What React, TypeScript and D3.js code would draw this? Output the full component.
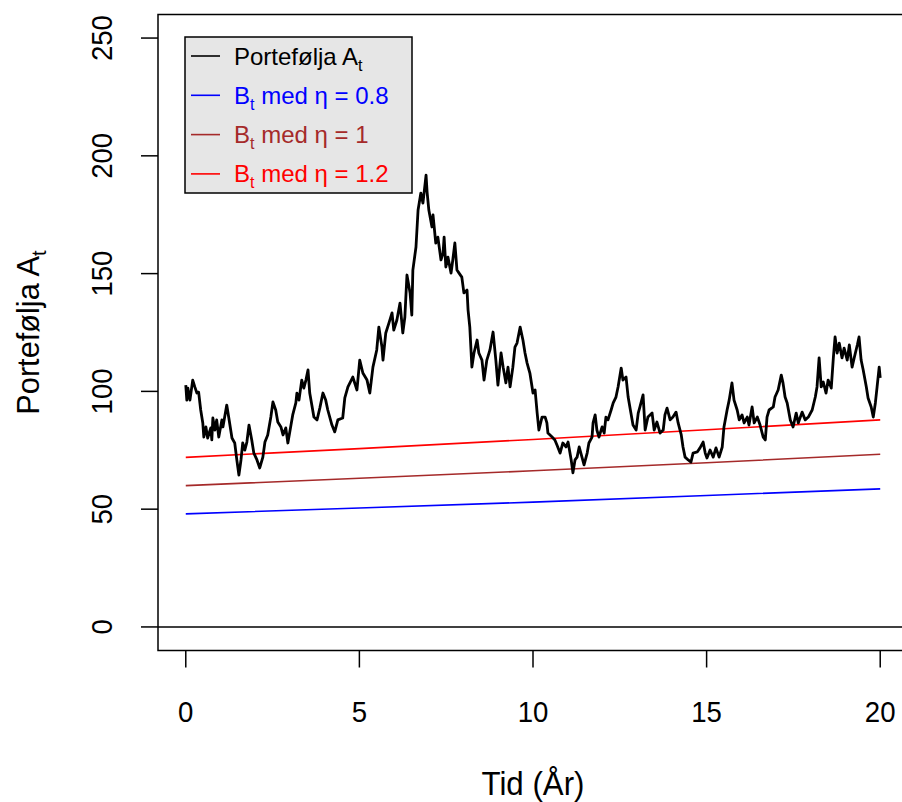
import React from 'react'
import * as d3 from 'd3'

// Portefølja A_t, lest av figuren (tid i år, verdi)
const tid = [0, 0.03, 0.06, 0.12, 0.2, 0.26, 0.32, 0.37, 0.43, 0.49, 0.52, 0.58, 0.63, 0.72, 0.75, 0.78, 0.84, 0.89, 0.95, 1.04, 1.07, 1.18, 1.24, 1.33, 1.41, 1.47, 1.53, 1.59, 1.64, 1.7, 1.76, 1.82, 1.9, 1.96, 2.05, 2.13, 2.22, 2.28, 2.36, 2.45, 2.51, 2.59, 2.65, 2.74, 2.8, 2.88, 2.94, 3.03, 3.08, 3.17, 3.2, 3.26, 3.34, 3.4, 3.46, 3.52, 3.57, 3.63, 3.69, 3.78, 3.86, 3.95, 4.03, 4.09, 4.21, 4.29, 4.38, 4.52, 4.58, 4.67, 4.81, 4.93, 5.01, 5.1, 5.22, 5.3, 5.39, 5.5, 5.56, 5.65, 5.68, 5.76, 5.85, 5.94, 5.99, 6.08, 6.17, 6.25, 6.31, 6.37, 6.46, 6.51, 6.54, 6.63, 6.69, 6.77, 6.83, 6.92, 6.95, 7.0, 7.09, 7.12, 7.2, 7.26, 7.35, 7.41, 7.44, 7.49, 7.55, 7.64, 7.69, 7.75, 7.81, 7.87, 7.95, 8.01, 8.1, 8.13, 8.18, 8.24, 8.3, 8.39, 8.44, 8.53, 8.59, 8.67, 8.76, 8.85, 8.93, 8.99, 9.08, 9.14, 9.22, 9.28, 9.34, 9.42, 9.48, 9.54, 9.63, 9.71, 9.77, 9.83, 9.91, 10.0, 10.06, 10.12, 10.17, 10.26, 10.35, 10.4, 10.43, 10.55, 10.63, 10.69, 10.78, 10.86, 10.95, 11.01, 11.1, 11.15, 11.21, 11.27, 11.33, 11.41, 11.47, 11.56, 11.61, 11.7, 11.73, 11.79, 11.84, 11.9, 11.99, 12.05, 12.1, 12.16, 12.25, 12.31, 12.39, 12.45, 12.54, 12.59, 12.68, 12.74, 12.82, 12.88, 12.97, 13.03, 13.08, 13.17, 13.23, 13.31, 13.43, 13.49, 13.57, 13.66, 13.75, 13.8, 13.86, 13.95, 14.03, 14.12, 14.18, 14.27, 14.32, 14.38, 14.47, 14.55, 14.61, 14.73, 14.81, 14.9, 14.96, 15.01, 15.1, 15.19, 15.27, 15.36, 15.45, 15.5, 15.59, 15.65, 15.73, 15.79, 15.88, 15.94, 16.02, 16.08, 16.17, 16.22, 16.31, 16.37, 16.46, 16.54, 16.63, 16.69, 16.74, 16.8, 16.92, 16.97, 17.06, 17.15, 17.2, 17.26, 17.32, 17.41, 17.49, 17.58, 17.64, 17.75, 17.84, 17.93, 18.04, 18.13, 18.18, 18.24, 18.3, 18.36, 18.44, 18.5, 18.59, 18.65, 18.7, 18.76, 18.82, 18.9, 18.96, 19.05, 19.11, 19.19, 19.25, 19.34, 19.39, 19.45, 19.51, 19.6, 19.65, 19.74, 19.8, 19.86, 19.91, 19.97, 20.0]
const portefolje = [102.7, 96.3, 101.4, 96.3, 104.8, 101.9, 99.3, 99.7, 92.1, 86.6, 80.6, 84.9, 80.2, 84.5, 79.4, 88.7, 83.6, 87.9, 80.6, 87.9, 84.9, 94.2, 88.7, 80.2, 78.1, 70.9, 64.5, 70.9, 78.1, 75.1, 78.5, 85.7, 79.4, 73.8, 70.9, 67.5, 72.1, 78.5, 81.5, 89.1, 95.5, 92.1, 87.0, 84.9, 81.5, 84.5, 78.1, 85.7, 90.0, 95.1, 99.3, 96.3, 104.8, 101.4, 104.8, 109.1, 99.3, 94.2, 89.1, 87.9, 92.9, 99.3, 96.3, 92.1, 85.7, 82.8, 87.9, 88.7, 97.2, 101.9, 106.1, 100.6, 113.3, 107.8, 104.8, 99.3, 110.3, 117.6, 127.3, 118.8, 113.3, 124.8, 129.0, 133.3, 126.0, 130.3, 137.5, 124.8, 131.6, 149.4, 141.8, 132.4, 151.5, 161.3, 177.0, 184.2, 179.9, 191.8, 184.6, 177.0, 169.8, 174.9, 163.0, 165.5, 155.8, 158.7, 165.5, 152.8, 157.0, 150.2, 155.8, 163.0, 151.5, 150.2, 148.5, 141.8, 143.0, 134.5, 127.3, 110.3, 116.3, 121.8, 116.3, 113.3, 104.8, 113.3, 117.6, 125.2, 113.3, 102.7, 116.3, 110.3, 103.6, 110.3, 101.9, 110.3, 118.8, 120.5, 127.3, 121.8, 116.3, 112.0, 107.8, 99.3, 100.6, 90.8, 83.6, 89.1, 89.1, 86.6, 82.3, 80.6, 79.4, 77.2, 73.8, 78.1, 76.4, 78.5, 70.9, 65.4, 70.9, 72.1, 76.4, 72.1, 68.8, 73.8, 78.1, 80.6, 86.6, 90.0, 83.6, 80.6, 84.9, 82.3, 89.1, 87.9, 92.1, 95.1, 97.6, 101.9, 109.9, 104.8, 106.1, 97.6, 90.8, 85.7, 83.6, 90.8, 93.4, 98.5, 83.6, 89.1, 90.8, 83.6, 87.0, 82.3, 83.6, 90.0, 92.9, 87.9, 89.1, 91.2, 86.6, 81.5, 76.4, 72.1, 70.9, 70.0, 73.8, 74.3, 76.0, 78.5, 73.8, 71.7, 75.1, 72.1, 76.0, 72.1, 76.4, 84.9, 92.1, 96.3, 103.6, 96.3, 92.1, 87.9, 90.0, 86.6, 89.1, 85.7, 93.4, 86.6, 89.1, 85.7, 80.6, 79.4, 89.1, 92.1, 93.4, 97.6, 100.6, 106.9, 103.6, 97.6, 95.1, 87.9, 84.9, 90.8, 86.6, 91.2, 87.9, 89.1, 92.1, 97.6, 101.9, 114.2, 101.9, 104.0, 99.3, 104.8, 101.4, 114.2, 123.1, 116.3, 120.5, 114.2, 118.4, 113.3, 119.7, 110.3, 114.2, 119.7, 123.1, 113.3, 109.1, 101.9, 97.2, 93.4, 89.1, 95.1, 101.9, 110.3, 105.7]

// B_t for tre verdier av eta
const tidB = [0, 5, 10, 15, 20]
const bEta08 = [48, 50.5, 53.0, 55.8, 58.6]
const bEta10 = [60, 63.1, 66.3, 69.7, 73.3]
const bEta12 = [72, 75.7, 79.6, 83.7, 87.9]

const xTicks = [0, 5, 10, 15, 20]
const yTicks = [0, 50, 100, 150, 200, 250]

const W = 902, H = 802
const left = 158, right = 908, top = 14.5, bottom = 650.5
const font = 'Liberation Sans, Arial, Helvetica, sans-serif'
const narrow = 0.92

export default function App() {
  const x = d3.scaleLinear().domain([-0.8, 20.8]).range([left, right])
  const y = d3.scaleLinear().domain([-10, 260]).range([bottom, top])

  const line = d3.line<[number, number]>().x(d => x(d[0])).y(d => y(d[1]))
  const aPath = line(tid.map((t, i) => [t, portefolje[i]]))
  const bLines = [
    { vals: bEta08, color: '#0000FF' },
    { vals: bEta10, color: '#A52A2A' },
    { vals: bEta12, color: '#FF0000' },
  ]

  const legend = [
    { color: '#000000', main: 'Portefølja A', sub: 't', rest: '' },
    { color: '#0000FF', main: 'B', sub: 't', rest: ' med η = 0.8' },
    { color: '#A52A2A', main: 'B', sub: 't', rest: ' med η = 1' },
    { color: '#FF0000', main: 'B', sub: 't', rest: ' med η = 1.2' },
  ]

  return (
    <svg width={W} height={H} style={{ position: 'absolute', left: 0, top: 0, background: '#fff' }} fontFamily={font}>
      <defs>
        <clipPath id="plotclip">
          <rect x={left} y={top} width={right - left} height={bottom - top} />
        </clipPath>
      </defs>

      <g clipPath="url(#plotclip)">
        <line x1={left} x2={right} y1={y(0)} y2={y(0)} stroke="#000" strokeWidth={1.5} />
        {bLines.map((b, k) => (
          <path key={k} d={line(tidB.map((t, i) => [t, b.vals[i]])) || ''} fill="none" stroke={b.color} strokeWidth={1.6} />
        ))}
        <path d={aPath || ''} fill="none" stroke="#000" strokeWidth={2.8} strokeLinejoin="round" />
      </g>

      {/* ramme */}
      <rect x={left} y={top} width={right - left} height={bottom - top} fill="none" stroke="#000" strokeWidth={1.5} />

      {/* x-akse */}
      {xTicks.map(t => (
        <g key={t}>
          <line x1={x(t)} x2={x(t)} y1={bottom} y2={bottom + 17} stroke="#000" strokeWidth={1.5} />
          <text transform={`translate(${x(t)},722) scale(${narrow},1)`} textAnchor="middle" fontSize={30}>{t}</text>
        </g>
      ))}
      <text transform={`translate(${(left + right) / 2},795) scale(${narrow},1)`} textAnchor="middle" fontSize={34}>Tid (År)</text>

      {/* y-akse */}
      {yTicks.map(v => (
        <g key={v}>
          <line x1={left} x2={left - 17} y1={y(v)} y2={y(v)} stroke="#000" strokeWidth={1.5} />
          <text transform={`translate(112,${y(v)}) rotate(-90) scale(${narrow},1)`} textAnchor="middle" fontSize={30}>{v}</text>
        </g>
      ))}
      <text transform={`translate(39,${(top + bottom) / 2}) rotate(-90) scale(0.96,1)`} textAnchor="middle" fontSize={32}>
        Portefølja  A<tspan fontSize={21} dy={7}>t</tspan>
      </text>

      {/* forklaring */}
      <rect x={185} y={37} width={227} height={156} fill="#E6E6E6" stroke="#000" strokeWidth={1.5} />
      {legend.map((l, i) => {
        const ly = 56 + i * 39.3
        return (
          <g key={i}>
            <line x1={191} x2={220} y1={ly} y2={ly} stroke={l.color} strokeWidth={1.6} />
            <text x={234} y={ly + 8.5} fontSize={24} fill={l.color}>
              {l.main}<tspan fontSize={16} dy={6}>{l.sub}</tspan>
              {l.rest && <tspan dy={-6}>{l.rest}</tspan>}
            </text>
          </g>
        )
      })}
    </svg>
  )
}
